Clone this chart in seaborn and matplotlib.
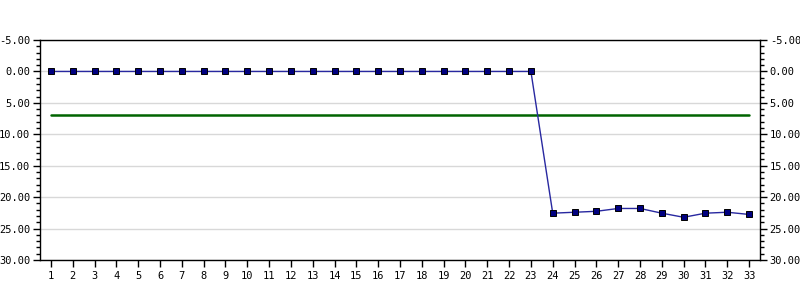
import matplotlib
matplotlib.use("Agg")
import matplotlib.pyplot as plt
import seaborn as sns
import pandas as pd
from matplotlib.ticker import MultipleLocator, FormatStrFormatter

x_vals = list(range(1, 34))
y_vals = [0.0] * 23 + [22.55, 22.4, 22.25, 21.8, 21.8, 22.55, 23.2, 22.55, 22.4, 22.75]
ref_level = 6.9

sns.set_theme(style="white")
plt.rcParams['font.family'] = ['DejaVu Sans Mono']

fig = plt.figure(figsize=(8, 3), dpi=100)
ax = fig.add_axes([0.05, 0.1333, 0.90, 0.7333])

df = pd.DataFrame({"x": x_vals, "y": y_vals})
sns.lineplot(data=df, x="x", y="y", ax=ax, color="#2828a0", linewidth=1.0,
             marker="s", markersize=4.0, markerfacecolor="#000080",
             markeredgecolor="black", markeredgewidth=0.7, zorder=3)
ref_df = pd.DataFrame({"x": [x_vals[0], x_vals[-1]], "y": [ref_level, ref_level]})
sns.lineplot(data=ref_df, x="x", y="y", ax=ax, color="#006400", linewidth=1.8, zorder=2)

ax.set_xlim(0.5, 33.5)
ax.set_ylim(30, -5)
ax.set_xticks(x_vals)
ax.set_xticklabels([str(v) for v in x_vals])
ax.yaxis.set_major_locator(MultipleLocator(5))
ax.yaxis.set_minor_locator(MultipleLocator(1))
ax.yaxis.set_major_formatter(FormatStrFormatter("%.2f"))
ax.grid(axis="y", which="major", color="#d8d8d8", linewidth=1.0)
ax.set_axisbelow(True)
ax.set_xlabel("")
ax.set_ylabel("")

for s in ax.spines.values():
    s.set_color("black")
    s.set_linewidth(1.0)

ax.tick_params(axis="x", which="major", direction="out", length=5, width=1, color="black",
               labelsize=7.5, pad=3, bottom=True, labelcolor="black")
ax.tick_params(axis="y", which="major", direction="out", length=5, width=1, color="black",
               labelsize=7.5, pad=2, left=True, right=True, labelleft=True, labelright=True,
               labelcolor="black")
ax.tick_params(axis="y", which="minor", direction="out", length=3, width=1, color="black",
               left=True, right=True)

fig.savefig("out.png", dpi=100)
